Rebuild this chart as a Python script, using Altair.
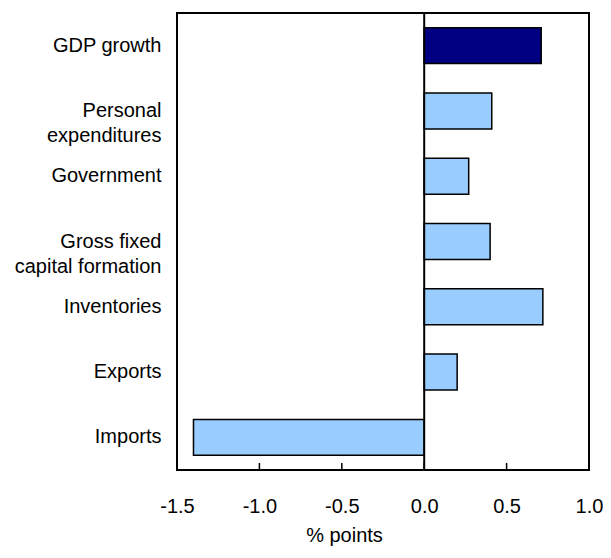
import altair as alt
import pandas as pd

categories = ["GDP growth", "Personal|expenditures", "Government",
              "Gross fixed|capital formation", "Inventories", "Exports", "Imports"]
values = [0.71, 0.41, 0.27, 0.40, 0.72, 0.20, -1.40]
kinds = ["total", "component", "component", "component", "component", "component", "component"]
tick_values = [-1.5, -1.0, -0.5, 0.0, 0.5, 1.0]

df = pd.DataFrame({"category": categories, "value": values, "kind": kinds})
ticks_df = pd.DataFrame({"t": tick_values})

W, H = 412, 457
FONT = "Liberation Sans"

xscale = alt.Scale(domain=[-1.5, 1.0], nice=False, zero=False)

bars = alt.Chart(df).mark_bar(stroke="black", strokeWidth=1.5).encode(
    y=alt.Y("category:N", sort=categories,
            scale=alt.Scale(paddingInner=0.45, paddingOuter=0.225),
            axis=alt.Axis(title=None, ticks=False, domain=False, labelFontSize=20,
                          labelFont=FONT, labelColor="black", labelPadding=16,
                          labelLimit=300, labelLineHeight=25,
                          labelExpr="split(datum.value, '|')")),
    x=alt.X("value:Q", scale=xscale,
            axis=alt.Axis(title="% points", values=tick_values, format=".1f",
                          labelExpr="replace(datum.label, '\u2212', '-')",
                          grid=False, ticks=False, tickSize=0, domain=False,
                          labelFontSize=20, labelFont=FONT, labelColor="black",
                          labelPadding=26, labelFlush=False,
                          titleFontSize=20, titleFont=FONT, titleFontWeight="normal",
                          titleColor="black", titleX=167, titleY=65,
                          titleAlign="center", titleBaseline="middle")),
    x2=alt.datum(0),
    color=alt.Color("kind:N", legend=None,
                    scale=alt.Scale(domain=["total", "component"],
                                    range=["#000080", "#99CCFF"])),
)

zero_line = alt.Chart(ticks_df).transform_filter("datum.t == 0").mark_rule(
    color="black", strokeWidth=2).encode(
    x=alt.X("t:Q", scale=xscale),
    y=alt.value(0), y2=alt.value(H))

tick_marks = alt.Chart(ticks_df).mark_rule(color="black", strokeWidth=1.5).encode(
    x=alt.X("t:Q", scale=xscale),
    y=alt.value(H - 7), y2=alt.value(H))

chart = alt.layer(bars, zero_line, tick_marks).properties(
    width=W, height=H,
    autosize="none",
    background="white",
    padding={"left": 169, "top": 5, "right": 14, "bottom": 80},
).configure_view(stroke="black", strokeWidth=2)

chart.save("out.html", embed_options={"renderer": "svg", "actions": False})
